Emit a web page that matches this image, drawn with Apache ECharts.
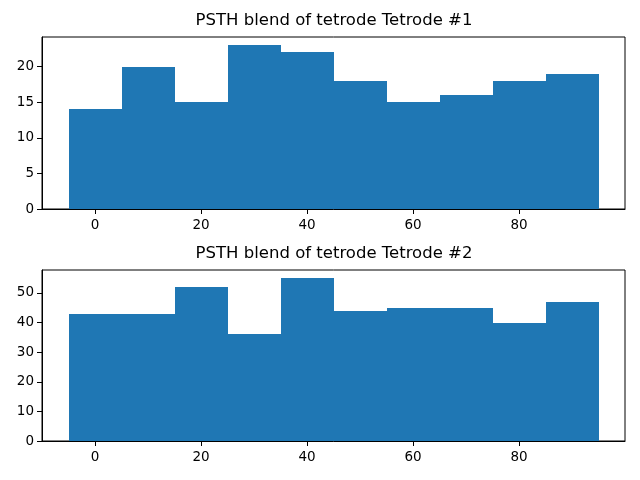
<!DOCTYPE html>
<html>
<head>
<meta charset="utf-8">
<script src="https://cdn.jsdelivr.net/npm/echarts@6/dist/echarts.min.js"></script>
<style>html,body{margin:0;padding:0;background:#fff}#c{width:640px;height:480px}</style>
</head>
<body>
<div id="c"></div>
<script>
const binEdges = [-5, 5, 15, 25, 35, 45, 55, 65, 75, 85, 95];
const counts1 = [14, 20, 15, 23, 22, 18, 15, 16, 18, 19];
const counts2 = [43, 43, 52, 36, 55, 44, 45, 45, 40, 47];
const titles = ['PSTH blend of tetrode Tetrode #1', 'PSTH blend of tetrode Tetrode #2'];
const xTicks = [0, 20, 40, 60, 80];
const yTicks1 = [0, 5, 10, 15, 20];
const yTicks2 = [0, 10, 20, 30, 40, 50];

const FONT = 'DejaVu Sans';
const color = '#1f77b4';

function histData(counts) {
  return counts.map((c, i) => [binEdges[i], binEdges[i + 1], c]);
}
function renderBar(params, api) {
  const p0 = api.coord([api.value(0), api.value(2)]);
  const p1 = api.coord([api.value(1), 0]);
  const x0 = Math.round(p0[0]), x1 = Math.round(p1[0]);
  const y0 = Math.round(p0[1]), y1 = Math.round(p1[1]);
  return {
    type: 'rect',
    shape: { x: x0, y: y0, width: x1 - x0, height: y1 - y0 },
    style: { fill: color, stroke: null }
  };
}
function xAxis(idx) {
  return {
    type: 'value', gridIndex: idx, min: -10, max: 100,
    splitLine: { show: false },
    axisLine: { show: true, onZero: false, lineStyle: { color: '#000', width: 1 } },
    axisTick: { show: true, length: 5, customValues: xTicks, lineStyle: { color: '#000', width: 1 } },
    axisLabel: { customValues: xTicks, color: '#000', fontFamily: FONT, fontSize: 13.5, margin: 9 }
  };
}
function yAxis(idx, max, ticks) {
  return {
    type: 'value', gridIndex: idx, min: 0, max: max,
    splitLine: { show: false },
    axisLine: { show: true, onZero: false, lineStyle: { color: '#000', width: 1 } },
    axisTick: { show: true, length: 5, customValues: ticks, lineStyle: { color: '#000', width: 1 } },
    axisLabel: { customValues: ticks, color: '#000', fontFamily: FONT, fontSize: 13.5, margin: 8 }
  };
}
const maxY1 = Math.max(...counts1) * 1.05;
const maxY2 = Math.max(...counts2) * 1.05;

const chart = echarts.init(document.getElementById('c'), null, { renderer: 'canvas' });
chart.setOption({
  animation: false,
  backgroundColor: '#fff',
  title: [
    { text: titles[0], left: 334, top: 12, textAlign: 'center', padding: 0,
      textStyle: { fontFamily: FONT, fontSize: 16.5, fontWeight: 'normal', color: '#000' } },
    { text: titles[1], left: 334, top: 245, textAlign: 'center', padding: 0,
      textStyle: { fontFamily: FONT, fontSize: 16.5, fontWeight: 'normal', color: '#000' } }
  ],
  grid: [
    { left: 42, right: 15, top: 37, height: 172, show: true, borderColor: '#000', borderWidth: 1, backgroundColor: 'transparent' },
    { left: 42, right: 15, top: 270, height: 171, show: true, borderColor: '#000', borderWidth: 1, backgroundColor: 'transparent' }
  ],
  xAxis: [xAxis(0), xAxis(1)],
  yAxis: [yAxis(0, maxY1, yTicks1), yAxis(1, maxY2, yTicks2)],
  series: [
    { type: 'custom', xAxisIndex: 0, yAxisIndex: 0, renderItem: renderBar, data: histData(counts1), encode: { x: [0, 1], y: 2 } },
    { type: 'custom', xAxisIndex: 1, yAxisIndex: 1, renderItem: renderBar, data: histData(counts2), encode: { x: [0, 1], y: 2 } }
  ]
});
</script>
</body>
</html>
